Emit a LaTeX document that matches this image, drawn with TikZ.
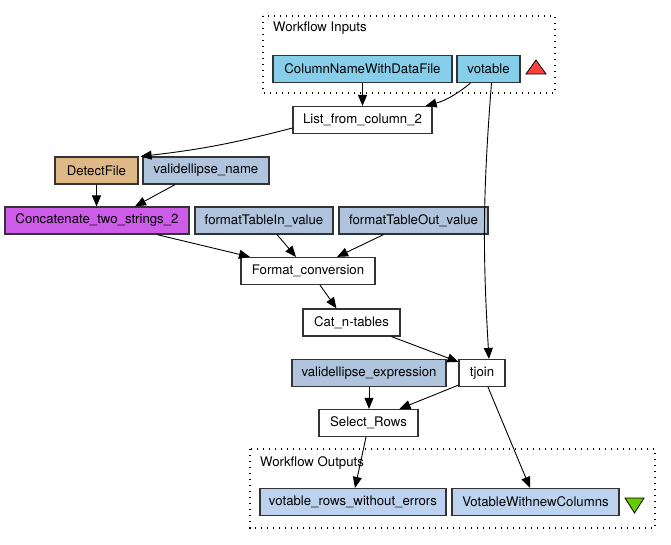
\documentclass[tikz,border=0pt]{standalone}
\usepackage{fontspec}
\setmainfont{TeX Gyre Heros}
\usepackage{xcolor}
\usetikzlibrary{calc}
\usetikzlibrary{arrows.meta}

\definecolor{inputcol}{HTML}{87CEEB}
\definecolor{constcol}{HTML}{B0C4DE}
\definecolor{detectcol}{HTML}{DEB887}
\definecolor{localcol}{HTML}{CD5CE8}
\definecolor{outputcol}{HTML}{BCD2EE}
\definecolor{redtri}{HTML}{FF4040}
\definecolor{greentri}{HTML}{66CC00}

\begin{document}
\begin{tikzpicture}[x=1pt,y=-1pt,
  box/.style={draw=black!80,line width=1.2pt,rectangle,inner sep=0pt,
    minimum height=27pt,font=\fontsize{13.2}{15}\selectfont},
  procbox/.style={box,fill=white},
  inbox/.style={box,fill=inputcol},
  constbox/.style={box,fill=constcol},
  outbox/.style={box,fill=outputcol},
  cluster/.style={draw,line width=1.2pt,dash pattern=on 1.2pt off 4.8pt},
  edge/.style={draw,line width=0.9pt,-{Triangle[length=11pt,width=9pt]}}]

  \useasboundingbox (0,0) rectangle (671,544);

  % clusters
  \draw [cluster] (263,16) rectangle (555,93);
  \node [anchor=west,inner sep=0pt,font=\fontsize{13.2}{15}\selectfont] at (273,28) (inlabel) {Workflow Inputs};
  \draw [cluster] (250,449) rectangle (655,528);
  \node [anchor=west,inner sep=0pt,font=\fontsize{13.2}{15}\selectfont] at (260,463) (outlabel) {Workflow Outputs};

  \node [inbox,minimum width=179pt] at (362.5,69) (cin) {ColumnNameWithDataFile};
  \node [inbox,minimum width=63pt] at (488.5,69) (vot) {votable};
  \draw [fill=redtri,line width=0.8pt] (536,60) -- (546,74) -- (526,74) -- cycle;

  \node [procbox,minimum width=139pt] at (362.5,120) (list) {List\_from\_column\_2};
  \node [box,fill=detectcol,minimum width=83pt] at (96.5,170.5) (det) {DetectFile};
  \node [constbox,minimum width=126pt] at (206,170.5) (vname) {validellipse\_name};
  \node [box,fill=localcol,minimum width=184pt] at (97,220.5) (concat) {Concatenate\_two\_strings\_2};
  \node [constbox,minimum width=138pt] at (264,220.5) (ftin) {formatTableIn\_value};
  \node [constbox,minimum width=149pt] at (413.5,220.5) (ftout) {formatTableOut\_value};
  \node [procbox,minimum width=134pt] at (308,271) (fconv) {Format\_conversion};
  \node [procbox,minimum width=97pt] at (351.5,322.5) (cat) {Cat\_n-tables};
  \node [constbox,minimum width=154pt] at (369,373) (vexpr) {validellipse\_expression};
  \node [procbox,minimum width=46pt] at (482,373) (tjoin) {tjoin};
  \node [procbox,minimum width=99pt] at (368.5,423) (sel) {Select\_Rows};

  \node [outbox,minimum width=186pt] at (353,502) (out1) {votable\_rows\_without\_errors};
  \node [outbox,minimum width=167pt] at (535.5,502) (out2) {VotableWithnewColumns};
  \draw [fill=greentri,line width=0.8pt] (625,498) -- (644,498) -- (634.5,513) -- cycle;

  % links
  \draw [edge] (cin.south) -- (list.north);
  \draw [edge] ([xshift=-18pt]vot.south) to [bend left=12] ([xshift=-7pt]list.north east);
  \draw [edge] ([xshift=3pt]vot.south) to [bend right=4] ([xshift=7pt]tjoin.north);
  \draw [edge] ([yshift=-8pt]list.west) to [bend left=4] ([xshift=2pt]det.north east);
  \draw [edge] (det.south) -- (det.south |- concat.north);
  \draw [edge] ([xshift=-31pt]vname.south) -- ([xshift=38pt]concat.north);
  \draw [edge] ([xshift=60pt]concat.south) -- ([xshift=-58pt]fconv.north);
  \draw [edge] ([xshift=13pt]ftin.south) -- ([xshift=-12pt]fconv.north);
  \draw [edge] ([xshift=-30pt]ftout.south) -- ([xshift=29pt]fconv.north);
  \draw [edge] ([xshift=12pt]fconv.south) -- ([xshift=-15pt]cat.north);
  \draw [edge] ([xshift=40pt]cat.south) -- ([yshift=-3pt]tjoin.north west);
  \draw [edge] (vexpr.south) -- (vexpr.south |- sel.north);
  \draw [edge] ([yshift=2pt]tjoin.south west) -- ([xshift=31pt]sel.north);
  \draw [edge] ([xshift=6pt]tjoin.south) -- ([xshift=-5.5pt]out2.north);
  \draw [edge] ([xshift=-2.5pt]sel.south) -- ([xshift=2pt]out1.north);

\end{tikzpicture}
\end{document}
